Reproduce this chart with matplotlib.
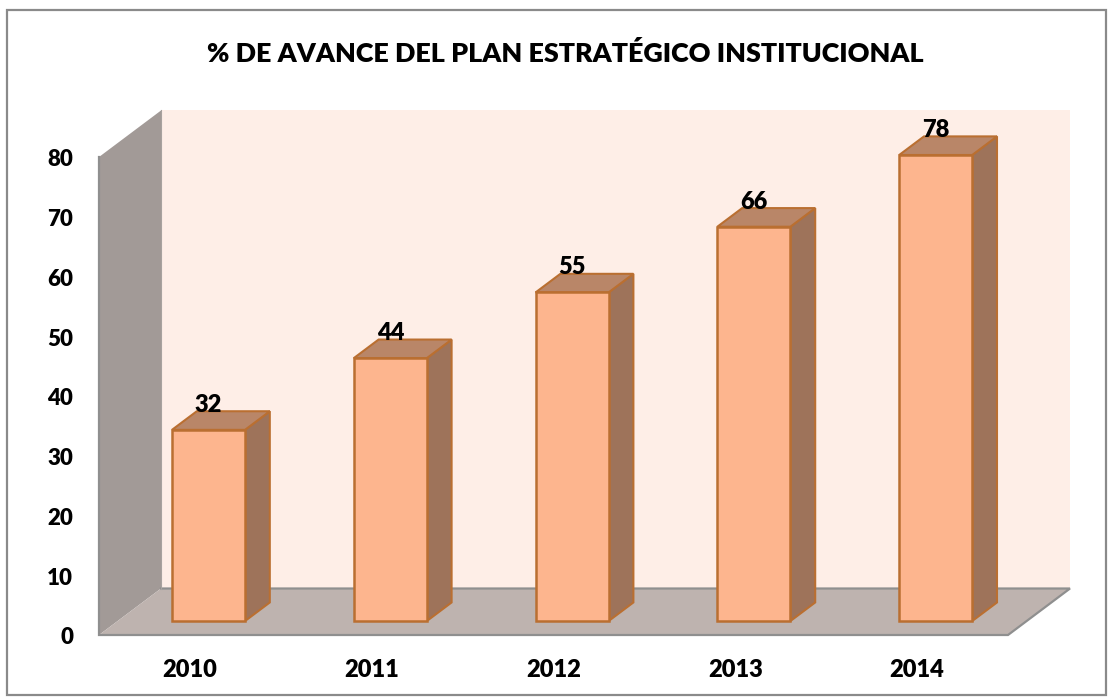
import matplotlib
matplotlib.use("Agg")
import matplotlib.pyplot as plt
from matplotlib.patches import Polygon, Rectangle

years = ["2010", "2011", "2012", "2013", "2014"]
values = [32, 44, 55, 66, 78]
yticks = [0, 10, 20, 30, 40, 50, 60, 70, 80]
title = "% DE AVANCE DEL PLAN ESTRATÉGICO INSTITUCIONAL"

W, H = 1110, 699
plt.rcParams["font.family"] = ["Lato", "DejaVu Sans"]
fig = plt.figure(figsize=(W / 100, H / 100), dpi=100, facecolor="white")

# outer chart frame
fig.add_artist(Rectangle((6.5 / W, 1 - 695 / H), (1106 - 6.5) / W, (695 - 10) / H,
                         transform=fig.transFigure, fill=False, ec="#8a8a8a", lw=1.6))

# front plane of the 3D box: x 99..1008 px, y 635..157 px
ax = fig.add_axes([99 / W, 1 - 635 / H, 909 / W, 478 / H])
ax.set_xlim(0, len(years))
ax.set_ylim(0, 80)
ax.axis("off")

# depth vector of the whole box, in data units
dx = 62 / 909 * len(years)
dy = 46.5 / 478 * 80
x_n, y_t = len(years), 80


def poly(pts, fc, ec="none", lw=0, z=1):
    ax.add_patch(Polygon(pts, closed=True, fc=fc, ec=ec, lw=lw, zorder=z,
                         clip_on=False, joinstyle="miter"))


# back wall, left wall, floor
poly([(dx, dy), (x_n + dx, dy), (x_n + dx, y_t + dy), (dx, y_t + dy)], "#FEEEE7", z=1)
poly([(0, 0), (dx, dy), (dx, y_t + dy), (0, y_t)], "#A29A97", z=2)
poly([(0, 0), (dx, dy), (x_n + dx, dy), (x_n, 0)], "#BEB3AF", z=2)
ax.plot([dx, x_n + dx, x_n, 0, 0, ], [dy, dy, 0, 0, y_t], color="#8f8f8f", lw=1.6,
        zorder=3, clip_on=False, solid_joinstyle="miter")
ax.plot([dx, dx], [dy, y_t + dy], color="#a8a29f", lw=0.8, zorder=3, clip_on=False)

# bars
bw = 73 / 909 * len(years)
z0 = 0.3   # gap of the bar's front from the box's front
zd = 0.4   # bar depth
edge = "#BA6F31"
for i, v in enumerate(values):
    x0 = i + 0.5 - bw / 2 + z0 * dx
    x1 = x0 + bw
    y0 = z0 * dy
    y1 = y0 + v
    ox, oy = zd * dx, zd * dy
    poly([(x1, y0), (x1 + ox, y0 + oy), (x1 + ox, y1 + oy), (x1, y1)], "#9E735A", edge, 1.5, 5)
    poly([(x0, y1), (x1, y1), (x1 + ox, y1 + oy), (x0 + ox, y1 + oy)], "#B98668", edge, 1.5, 5)
    poly([(x0, y0), (x1, y0), (x1, y1), (x0, y1)], "#FDB58E", edge, 1.8, 6)
    ax.text(i + 0.5 + z0 * dx, y1 + 3.0, str(v), ha="center", va="baseline",
            fontsize=17, fontweight="heavy", color="black", zorder=7, clip_on=False)
    ax.text(i + 0.5, -5.9, years[i], ha="center", va="center",
            fontsize=17, fontweight="heavy", color="black", clip_on=False)

for t in yticks:
    ax.text(-0.142, t - 0.5, str(t), ha="right", va="center",
            fontsize=16, fontweight="heavy", color="black", clip_on=False)

fig.text(565.5 / W, 1 - 54 / H, title, ha="center", va="center",
         fontsize=19.4, fontweight="heavy", color="black")

fig.savefig("out.png", dpi=100)
